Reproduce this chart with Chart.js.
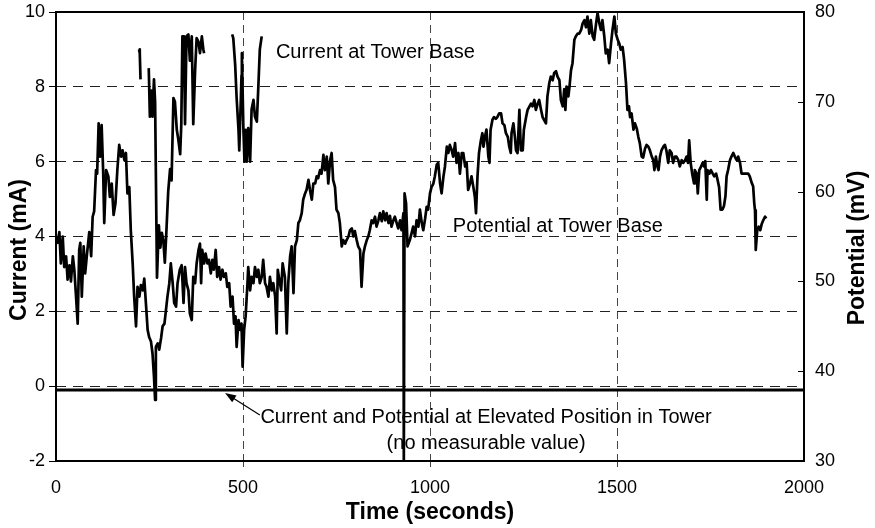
<!DOCTYPE html>
<html>
<head>
<meta charset="utf-8">
<title>Tower Base Current and Potential</title>
<script src="https://cdn.jsdelivr.net/npm/chart.js@4.4.0/dist/chart.umd.min.js"></script>
<style>
  html, body { margin: 0; padding: 0; background: #fff; }
  #chartContainer { width: 875px; height: 528px; }
</style>
</head>
<body>
<div id="chartContainer"><canvas id="myChart"></canvas></div>
<script>
"use strict";

// potential at tower base (mV, right axis)
const potentialTime = [
  0, 4, 9, 13, 18, 22, 27, 31, 36, 40, 45, 49, 53, 58, 62, 65, 69, 74, 78, 83,
  89, 94, 98, 102, 107, 110, 114, 118, 122, 126, 129, 134, 140, 144, 149, 154, 159, 164, 169, 174,
  178, 183, 187, 191, 196, 200, 205, 209, 214, 218, 223, 227, 232, 236, 241, 245, 249, 254, 258, 262,
  265, 267, 272, 276, 281, 285, 290, 294, 298, 303, 307, 312, 316, 321, 325, 331, 336, 341, 345, 349,
  354, 358, 363, 367, 372, 376, 381, 385, 388, 391, 396, 400, 405, 409, 414, 418, 422, 427, 431, 436,
  440, 445, 449, 454, 458, 463, 467, 472, 476, 480, 483, 488, 492, 496, 499, 503, 507, 512, 514, 519,
  523, 528, 532, 537, 541, 545, 550, 554, 559, 563, 568, 572, 577, 581, 586, 590, 593, 597, 602, 606,
  612, 617, 621, 626, 630, 635, 639, 644, 648, 652, 657, 661, 666, 670, 675, 679, 684, 688, 693, 697,
  701, 706, 710, 715, 719, 724, 728, 733, 737, 741, 746, 750, 755, 759, 764, 768, 773, 777, 782, 786,
  791, 795, 799, 804, 808, 813, 817, 822, 826, 831, 835, 839, 844, 848, 853, 857, 862, 866, 871, 875,
  880, 884, 889, 893, 897, 902, 906, 911, 915, 920, 924, 929, 930, 932, 936, 940, 946, 951, 955, 960,
  964, 969, 973, 978, 982, 987, 991, 995, 1000, 1004, 1009, 1013, 1018, 1022, 1027, 1031, 1036, 1040, 1045, 1049,
  1053, 1058, 1062, 1067, 1071, 1076, 1080, 1085, 1089, 1094, 1098, 1102, 1107, 1111, 1116, 1120, 1123, 1127, 1131, 1136,
  1140, 1143, 1147, 1151, 1156, 1159, 1162, 1167, 1171, 1176, 1180, 1185, 1190, 1194, 1199, 1203, 1208, 1212, 1216, 1218,
  1223, 1227, 1230, 1234, 1239, 1243, 1248, 1251, 1257, 1261, 1266, 1270, 1274, 1279, 1283, 1288, 1292, 1297, 1301, 1306,
  1310, 1314, 1319, 1323, 1328, 1332, 1337, 1341, 1346, 1350, 1355, 1359, 1362, 1365, 1370, 1373, 1377, 1381, 1386, 1390,
  1395, 1399, 1404, 1408, 1413, 1417, 1421, 1426, 1430, 1435, 1439, 1444, 1448, 1453, 1457, 1461, 1466, 1470, 1475, 1479,
  1484, 1488, 1493, 1497, 1502, 1506, 1510, 1515, 1519, 1524, 1528, 1532, 1535, 1539, 1544, 1548, 1553, 1557, 1561, 1566,
  1570, 1575, 1579, 1584, 1588, 1593, 1597, 1600, 1604, 1608, 1611, 1615, 1619, 1624, 1628, 1632, 1637, 1641, 1646, 1650,
  1655, 1659, 1664, 1668, 1673, 1677, 1682, 1686, 1690, 1693, 1697, 1701, 1706, 1708, 1713, 1716, 1720, 1725, 1729, 1733,
  1736, 1740, 1742, 1747, 1751, 1756, 1760, 1765, 1769, 1773, 1777, 1782, 1786, 1790, 1793, 1797, 1802, 1806, 1811, 1815,
  1820, 1824, 1829, 1833, 1837, 1842, 1846, 1851, 1855, 1860, 1864, 1867, 1869, 1871, 1875, 1879, 1883, 1887, 1891, 1896,
  1899
];
const potentialMV = [
  55.0, 54.3, 55.5, 52.0, 55.0, 51.6, 52.8, 50.2, 51.8, 50.0, 52.8, 51.3, 48.7, 45.3, 53.5, 54.3, 48.3, 53.9, 50.9, 53.1,
  55.5, 52.8, 57.2, 57.8, 62.4, 62.0, 67.6, 63.9, 67.4, 62.4, 56.5, 62.4, 61.7, 59.4, 60.9, 57.4, 58.7, 62.4, 65.2, 63.9,
  64.6, 63.5, 64.3, 59.8, 60.5, 55.7, 52.0, 48.3, 45.0, 49.4, 48.3, 49.6, 49.0, 50.3, 47.2, 44.6, 43.8, 43.3, 42.0, 39.4,
  36.8, 42.7, 43.1, 42.4, 43.7, 45.0, 45.3, 46.8, 48.3, 49.8, 52.0, 49.8, 47.6, 47.2, 49.8, 51.3, 51.8, 47.6, 51.6, 49.8,
  49.0, 46.4, 45.7, 50.5, 49.8, 52.0, 53.5, 54.2, 49.8, 53.5, 52.0, 53.1, 52.0, 52.4, 50.9, 52.4, 51.3, 53.5, 50.5, 51.6,
  50.2, 51.3, 50.5, 50.9, 49.4, 49.8, 47.2, 48.3, 45.3, 46.1, 42.7, 45.7, 44.6, 45.3, 40.5, 44.6, 46.1, 49.8, 51.6, 49.0,
  50.5, 49.8, 51.6, 50.5, 51.3, 49.8, 50.5, 52.4, 49.8, 49.4, 48.3, 50.5, 49.0, 49.8, 48.3, 44.2, 51.3, 50.2, 49.0, 52.0,
  50.5, 44.2, 49.8, 52.8, 53.9, 48.7, 53.9, 54.6, 56.5, 56.8, 57.6, 59.1, 59.8, 60.2, 61.3, 60.2, 59.1, 60.9, 60.9, 61.7,
  61.5, 62.4, 62.0, 64.1, 62.4, 63.9, 60.9, 63.5, 64.3, 61.3, 60.5, 58.0, 57.6, 56.5, 53.9, 54.6, 54.2, 54.6, 55.0, 55.7,
  55.9, 55.0, 55.6, 54.6, 53.9, 53.5, 49.4, 53.1, 53.9, 54.6, 55.0, 55.7, 56.8, 56.5, 57.2, 56.1, 56.8, 57.6, 56.7, 57.8,
  56.8, 57.6, 56.5, 57.3, 56.1, 56.8, 57.2, 56.5, 55.9, 56.8, 55.7, 57.6, 30.0, 59.8, 58.7, 53.9, 54.6, 55.4, 56.1, 55.0,
  56.8, 56.1, 58.0, 56.5, 55.7, 57.0, 58.3, 58.0, 59.8, 60.5, 60.9, 61.7, 63.0, 63.2, 60.9, 59.8, 61.7, 62.8, 65.0, 64.3,
  65.2, 64.6, 63.9, 65.4, 63.2, 64.3, 62.0, 64.3, 64.3, 62.8, 63.2, 60.2, 60.9, 61.7, 60.5, 59.4, 57.6, 61.7, 64.3, 65.7,
  66.5, 65.0, 66.1, 66.9, 63.9, 63.2, 66.9, 68.0, 68.3, 68.1, 68.3, 68.7, 68.7, 67.6, 67.4, 66.5, 66.1, 65.0, 64.3, 66.5,
  67.6, 66.1, 64.6, 64.3, 69.1, 64.6, 64.6, 66.9, 68.3, 69.1, 69.5, 69.8, 69.5, 70.2, 69.1, 69.8, 70.2, 69.1, 68.3, 67.9,
  67.6, 70.6, 72.1, 72.8, 72.4, 73.2, 73.4, 72.8, 72.4, 70.2, 69.5, 71.4, 69.1, 71.7, 70.6, 71.7, 73.5, 74.3, 76.9, 77.3,
  77.6, 77.6, 78.0, 78.7, 79.1, 78.3, 79.5, 77.6, 79.1, 77.3, 76.9, 78.7, 79.9, 78.7, 78.0, 79.1, 77.3, 75.4, 75.8, 74.3,
  76.5, 78.0, 79.5, 77.6, 76.9, 76.5, 75.8, 76.1, 74.7, 72.1, 69.1, 69.5, 68.3, 68.7, 66.9, 67.6, 67.0, 66.1, 65.4, 63.9,
  63.8, 64.8, 65.2, 65.0, 64.6, 63.9, 63.5, 62.4, 63.9, 62.8, 62.4, 63.9, 64.6, 65.0, 65.2, 64.6, 63.2, 64.6, 64.3, 63.2,
  63.9, 63.9, 63.5, 62.8, 63.5, 63.2, 63.5, 63.9, 63.2, 65.7, 63.2, 62.0, 60.9, 62.4, 62.0, 59.8, 62.4, 62.8, 63.2, 62.8,
  63.4, 59.1, 62.4, 62.0, 62.4, 62.0, 61.7, 62.0, 61.3, 60.5, 58.0, 58.0, 58.4, 59.5, 61.7, 62.4, 63.5, 63.9, 64.3, 63.9,
  63.5, 63.9, 63.2, 62.0, 62.0, 62.0, 62.0, 62.0, 61.7, 61.0, 60.6, 58.7, 57.9, 53.5, 55.7, 56.1, 55.7, 56.4, 56.8, 57.2,
  57.0
];

// current at tower base (mA, left axis); null = no reading
const currentTime = [
  222, 224, 226, 237,
  248, 251, 255, 258, 262, 265, 270, 275, 279, 283, 287, 291, 295, 300, 305, 309,
  314, 318, 323, 327, 332, 335, 338, 342, 345, 349, 354, 358, 363, 367, 372, 376, 381, 385, 390, 394,
  396, 430,
  471, 474, 479, 483, 488, 490, 494, 496, 497, 501, 504, 507, 510, 514, 519, 523, 528, 532, 537, 541,
  545, 550
];
const currentMA = [
  9.0, 8.9, 8.2, null,
  8.5, 7.2, 7.9, 7.2, 8.2, 7.6, 2.9, 4.3, 3.7, 4.1, 3.9, 3.3, 4.1, 5.2, 5.8, 5.5,
  7.7, 7.6, 6.85, 6.6, 6.2, 7.0, 9.35, 9.35, 7.0, 9.35, 9.4, 8.7, 9.35, 7.0, 8.45, 9.3, 9.2, 8.9, 9.35, 9.0,
  8.9, null,
  9.4, 9.3, 8.6, 7.7, 6.85, 6.3, 7.6, 8.3, 8.9, 6.9, 6.0, 6.85, 6.0, 6.9, 6.0, 7.4, 7.65, 7.2, 7.07, 8.0,
  9.0, 9.35
];

// elevated position in tower: no measurable value
const elevatedTime = [0, 2000];
const elevatedMA = [-0.1, -0.1];

const timeTicks = [0, 500, 1000, 1500, 2000];
const currentTicks = [-2, 0, 2, 4, 6, 8, 10];
const potentialTicks = [30, 40, 50, 60, 70, 80];

const FONT = "'Liberation Sans', Arial, sans-serif";

function toPoints(xs, ys) {
  return xs.map((x, i) => ({ x: x, y: ys[i] }));
}

function setTicks(values) {
  return function (scale) {
    scale.ticks = values.map((v) => ({ value: v }));
  };
}

function plainLabel(value) {
  return String(value);
}

// frame, inward potential ticks, axis titles and notes
const overlay = {
  id: "overlay",
  beforeDatasetsDraw(chart) {
    const ctx = chart.ctx;
    const a = chart.chartArea;
    const y2 = chart.scales.y2;
    ctx.save();
    ctx.strokeStyle = "#000";
    ctx.lineWidth = 2;
    ctx.strokeRect(a.left, a.top, a.right - a.left, a.bottom - a.top);
    ctx.lineWidth = 1;
    potentialTicks.forEach((v) => {
      const py = Math.round(y2.getPixelForValue(v)) + 0.5;
      ctx.beginPath();
      ctx.moveTo(a.right - 6, py);
      ctx.lineTo(a.right, py);
      ctx.stroke();
    });
    ctx.restore();
  },
  afterDraw(chart) {
    const ctx = chart.ctx;
    const a = chart.chartArea;
    const x = chart.scales.x;
    const y = chart.scales.y;
    const y2 = chart.scales.y2;

    ctx.save();
    ctx.fillStyle = "#000";
    ctx.textBaseline = "middle";

    // axis titles
    ctx.font = "bold 23px " + FONT;
    ctx.textAlign = "center";
    ctx.fillText("Time (seconds)", (a.left + a.right) / 2, 513);

    ctx.save();
    ctx.translate(20, 250);
    ctx.rotate(-Math.PI / 2);
    ctx.fillText("Current (mA)", 0, 0);
    ctx.restore();

    ctx.save();
    ctx.translate(858, 248);
    ctx.rotate(-Math.PI / 2);
    ctx.fillText("Potential (mV)", 0, 0);
    ctx.restore();

    // series notes
    ctx.font = "20px " + FONT;
    ctx.textAlign = "left";
    ctx.fillText("Current at Tower Base", x.getPixelForValue(588), y.getPixelForValue(8.93));
    ctx.fillText("Potential at Tower Base", x.getPixelForValue(1061), y2.getPixelForValue(56.1));

    ctx.textAlign = "center";
    ctx.fillText("Current and Potential at Elevated Position in Tower",
      x.getPixelForValue(1150), y.getPixelForValue(-0.85));
    ctx.fillText("(no measurable value)",
      x.getPixelForValue(1150), y.getPixelForValue(-1.52));

    // arrow to the elevated line
    const x0 = x.getPixelForValue(545), y0 = y.getPixelForValue(-0.77);
    const x1 = x.getPixelForValue(452), y1 = y.getPixelForValue(-0.18);
    const ang = Math.atan2(y1 - y0, x1 - x0);
    ctx.strokeStyle = "#000";
    ctx.lineWidth = 1.2;
    ctx.beginPath();
    ctx.moveTo(x0, y0);
    ctx.lineTo(x1 - 8 * Math.cos(ang), y1 - 8 * Math.sin(ang));
    ctx.stroke();
    ctx.beginPath();
    ctx.moveTo(x1, y1);
    ctx.lineTo(x1 - 11 * Math.cos(ang) + 4 * Math.sin(ang), y1 - 11 * Math.sin(ang) - 4 * Math.cos(ang));
    ctx.lineTo(x1 - 11 * Math.cos(ang) - 4 * Math.sin(ang), y1 - 11 * Math.sin(ang) + 4 * Math.cos(ang));
    ctx.closePath();
    ctx.fill();
    ctx.restore();
  }
};

const lineStyle = {
  borderColor: "#000",
  backgroundColor: "#000",
  borderWidth: 2.7,
  borderJoinStyle: "round",
  pointRadius: 0,
  tension: 0,
  fill: false,
  spanGaps: false
};

const chartConfig = {
  type: "line",
  data: {
    datasets: [
      Object.assign({}, lineStyle, {
        label: "Current and Potential at Elevated Position in Tower",
        data: toPoints(elevatedTime, elevatedMA),
        yAxisID: "y",
        borderWidth: 3
      }),
      Object.assign({}, lineStyle, {
        label: "Potential at Tower Base",
        data: toPoints(potentialTime, potentialMV),
        yAxisID: "y2"
      }),
      Object.assign({}, lineStyle, {
        label: "Current at Tower Base",
        data: toPoints(currentTime, currentMA),
        yAxisID: "y"
      })
    ]
  },
  options: {
    responsive: true,
    maintainAspectRatio: false,
    animation: false,
    events: [],
    layout: { padding: { top: 12, left: 0, right: 0, bottom: 0 } },
    plugins: {
      legend: { display: false },
      tooltip: { enabled: false }
    },
    scales: {
      x: {
        type: "linear",
        position: "bottom",
        min: 0,
        max: 2000,
        afterBuildTicks: setTicks(timeTicks),
        afterFit: (scale) => {
          scale.height = 67;
          scale.paddingLeft = 0;
          scale.paddingRight = 0;
        },
        grid: {
          color: "#444",
          lineWidth: 1,
          tickLength: 6,
          tickBorderDash: [8, 5],
          tickColor: (c) => (c.tick && (c.tick.value === 0 || c.tick.value === 2000) ? "rgba(0,0,0,0)" : "#444")
        },
        border: { display: false, dash: [8, 5] },
        ticks: {
          color: "#000",
          font: { family: FONT, size: 18 },
          padding: 10,
          maxRotation: 0,
          callback: plainLabel
        }
      },
      y: {
        type: "linear",
        position: "left",
        min: -2,
        max: 10,
        afterBuildTicks: setTicks(currentTicks),
        afterFit: (scale) => {
          scale.width = 56;
          scale.paddingTop = 0;
          scale.paddingBottom = 0;
        },
        grid: {
          color: "#222",
          lineWidth: 1,
          tickLength: 7,
          tickColor: "#000",
          tickBorderDash: []
        },
        border: { display: false, dash: [10, 7] },
        ticks: {
          color: "#000",
          font: { family: FONT, size: 18 },
          padding: 4,
          callback: plainLabel
        }
      },
      y2: {
        type: "linear",
        position: "right",
        min: 30,
        max: 80,
        afterBuildTicks: setTicks(potentialTicks),
        afterFit: (scale) => {
          scale.width = 71;
          scale.paddingTop = 0;
          scale.paddingBottom = 0;
        },
        grid: { display: false, drawOnChartArea: false, drawTicks: false },
        border: { display: false },
        ticks: {
          color: "#000",
          font: { family: FONT, size: 18 },
          padding: 11,
          callback: plainLabel
        }
      }
    }
  },
  plugins: [overlay]
};

const myChart = new Chart(document.getElementById("myChart").getContext("2d"), chartConfig);
</script>
</body>
</html>
